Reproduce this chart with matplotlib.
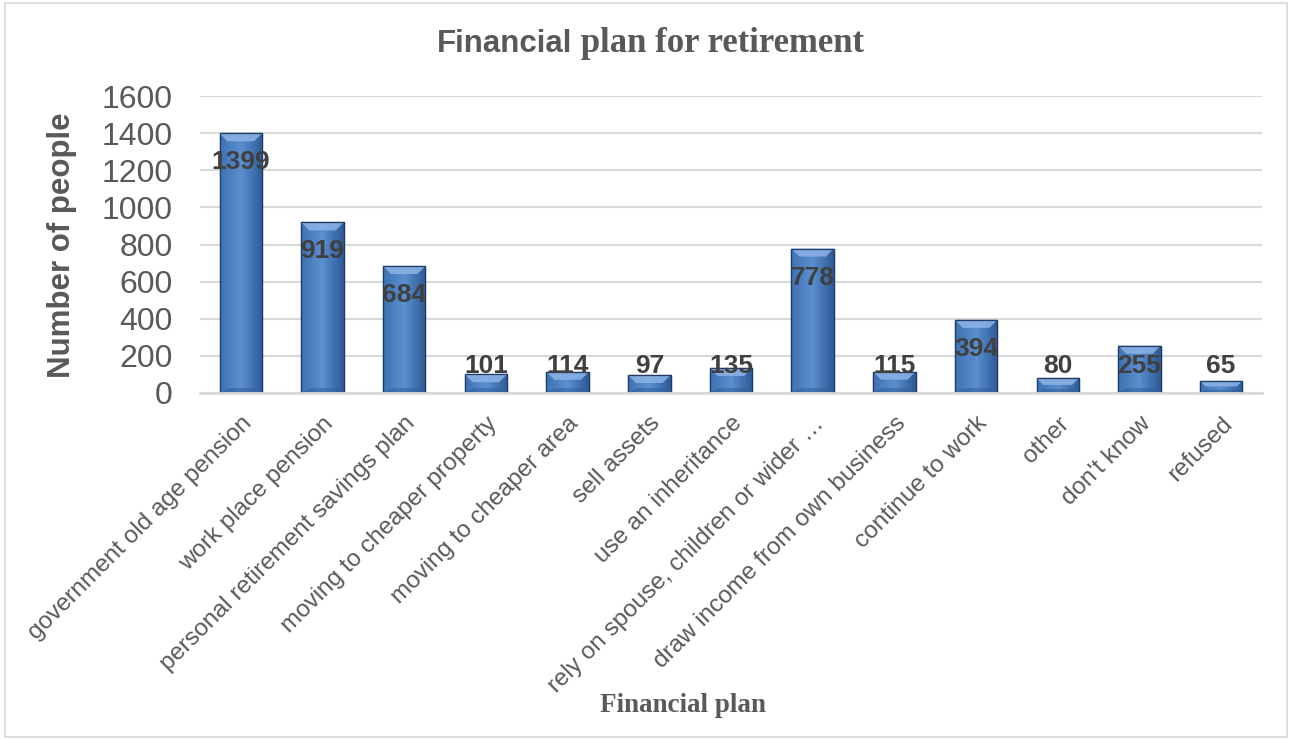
import matplotlib
matplotlib.use("Agg")
import matplotlib.pyplot as plt
import numpy as np
from matplotlib.patches import Polygon, Rectangle
from matplotlib.colors import to_rgb

categories = ["government old age pension", "work place pension",
              "personal retirement savings plan", "moving to cheaper property",
              "moving to cheaper area", "sell assets", "use an inheritance",
              "rely on spouse, children or wider …", "draw income from own business",
              "continue to work", "other", "don't know", "refused"]
values = [1399, 919, 684, 101, 114, 97, 135, 778, 115, 394, 80, 255, 65]
yticks = [0, 200, 400, 600, 800, 1000, 1200, 1400, 1600]

W, H = 1292, 740
fig = plt.figure(figsize=(W / 100, H / 100), dpi=100)
fig.patch.set_facecolor("white")
ax = fig.add_axes([200 / W, 1 - 393 / H, 1062 / W, 297 / H])

TXT = "#595959"
x = np.arange(len(categories))
bw = 0.52
bars = ax.bar(x, values, width=bw, color="#4a7ebf", edgecolor="#1f3c66",
              linewidth=0.9, zorder=2)

# gradient fill + bevel
def mix(c1, c2, t):
    a, b = np.array(to_rgb(c1)), np.array(to_rgb(c2))
    return a + (b - a) * t

prof = np.linspace(0, 1, 64)
cols = []
for p in prof:
    if p < 0.5:
        cols.append(mix("#3f72b3", "#5a8fd0", p / 0.5))
    else:
        cols.append(mix("#5a8fd0", "#2d5a96", (p - 0.5) / 0.5))
grad = np.array(cols)[None, :, :]

px_x = 1062 / 13.0          # pixels per x unit
px_y = 297 / 1600.0         # pixels per y unit
for b in bars:
    x0, w, h = b.get_x(), b.get_width(), b.get_height()
    im = ax.imshow(grad, extent=[x0, x0 + w, 0, h], aspect="auto",
                   zorder=2.1, interpolation="bilinear")
    im.set_clip_path(b)
    bev_px = min(8, h * px_y / 2.2)
    dx = bev_px / px_x
    dy = bev_px / px_y
    top = Polygon([[x0, h], [x0 + w, h], [x0 + w - dx, h - dy], [x0 + dx, h - dy]],
                  closed=True, facecolor="#8db3e6", edgecolor="none", alpha=0.85, zorder=2.2)
    ax.add_patch(top)
    bot = Polygon([[x0, 0], [x0 + w, 0], [x0 + w - dx, dy * 0.6], [x0 + dx, dy * 0.6]],
                  closed=True, facecolor="#2f5c96", edgecolor="none", alpha=0.5, zorder=2.2)
    ax.add_patch(bot)
    ax.add_patch(Rectangle((x0, 0), w, h, facecolor="none", edgecolor="#1f3c66",
                           linewidth=0.9, zorder=2.3))

for xi, v in zip(x, values):
    ax.text(xi, max(v - 156, 146), str(v), ha="center", va="center",
            fontsize=19, fontweight="bold", color="#404040",
            family="Liberation Sans", zorder=3)

ax.set_xlim(-0.5, len(categories) - 0.5)
ax.set_ylim(0, 1600)
ax.set_yticks(yticks)
ax.set_yticklabels([str(t) for t in yticks], fontsize=23, color=TXT,
                   family="Liberation Sans")
ax.set_xticks(x)
ax.set_xticklabels(categories, rotation=45, ha="right", va="top",
                   rotation_mode="anchor", fontsize=17.5, color=TXT,
                   family="Liberation Sans")
ax.tick_params(axis="y", length=0, pad=19.5)
ax.tick_params(axis="x", length=0, pad=14)
ax.grid(axis="y", color="#d9d9d9", linewidth=1.5, zorder=0)
ax.set_axisbelow(True)
for s in ["top", "right", "left"]:
    ax.spines[s].set_visible(False)
ax.spines["bottom"].set_color("#d9d9d9")
ax.spines["bottom"].set_linewidth(2)

fig.text(62 / W, 1 - 245 / H, "Number of people", rotation=90, ha="center",
         va="center", fontsize=22.5, fontweight="bold", color=TXT,
         family="Liberation Sans")

fig.text(572 / W, 1 - 44 / H, "Financial", ha="right", va="center",
         fontsize=22.5, fontweight="bold", color=TXT, family="Liberation Sans")
fig.text(572 / W, 1 - 44 / H, " plan for retirement", ha="left", va="center",
         fontsize=25, fontweight="bold", color=TXT, family="Liberation Serif")

fig.text(683 / W, 1 - 706 / H, "Financial plan", ha="center", va="center",
         fontsize=19.5, fontweight="bold", color=TXT, family="Liberation Serif")

fig.add_artist(Rectangle((5 / W, 3 / H), (W - 10) / W, (H - 6) / H,
                         transform=fig.transFigure, facecolor="none",
                         edgecolor="#d9d9d9", linewidth=1.2))

fig.savefig("out.png", dpi=100)
